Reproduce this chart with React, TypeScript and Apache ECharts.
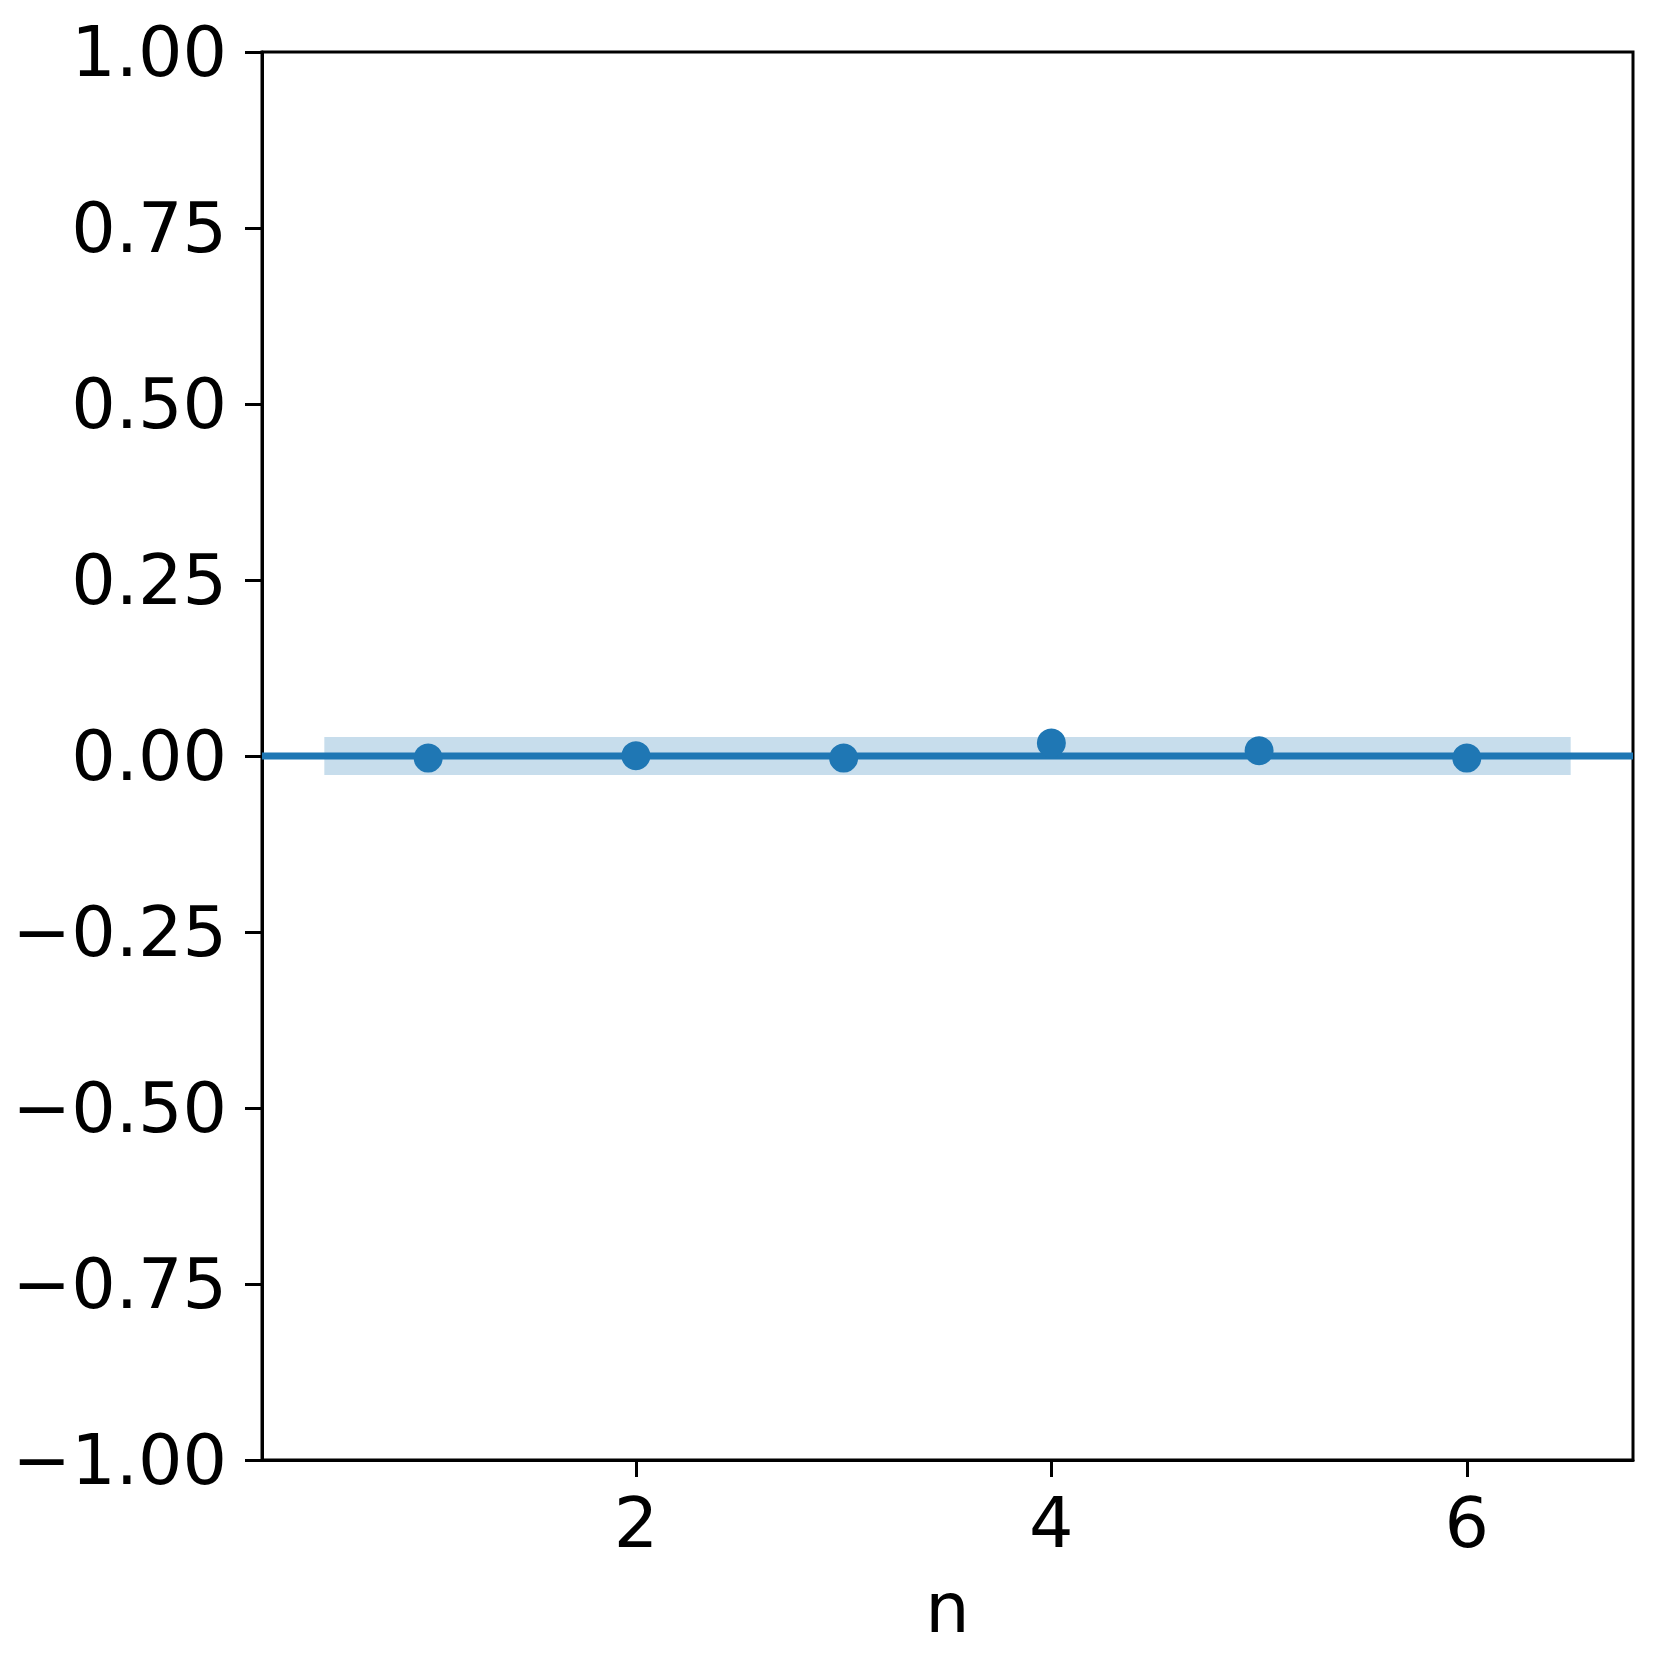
import React, { useEffect, useRef } from "react";
import * as echarts from "echarts";

const nValues = [1, 2, 3, 4, 5, 6];
const yValues = [-0.003, 0.0004, -0.003, 0.0185, 0.0075, -0.003];
const bandX = [0.5, 6.5];
const bandY = [-0.027, 0.027];
const xTicks = [2, 4, 6];
const xRange = [0.2, 6.8];
const yRange = [-1, 1];
const yInterval = 0.25;
const refLine = 0;

const BLUE = "#1f77b4";
const FONT = "DejaVu Sans";

export default function App() {
  const ref = useRef<HTMLDivElement>(null);
  useEffect(() => {
    document.body.style.margin = "0";
    const chart = echarts.init(ref.current!, undefined, { renderer: "svg" });
    const fmt = (v: number) => {
      const s = Math.abs(v).toFixed(2);
      return v < -1e-9 ? "\u2212" + s : s;
    };
    chart.setOption({
      animation: false,
      backgroundColor: "#ffffff",
      grid: {
        left: 262,
        top: 52,
        right: 28,
        bottom: 201,
        show: true,
        borderColor: "#000",
        borderWidth: 3,
        backgroundColor: "transparent",
      },
      xAxis: {
        type: "value",
        min: xRange[0],
        max: xRange[1],
        name: "n",
        nameLocation: "middle",
        nameGap: 113,
        nameTextStyle: { fontFamily: FONT, fontSize: 70, color: "#000" },
        splitLine: { show: false },
        axisLine: { show: true, onZero: false, lineStyle: { color: "#000", width: 3 } },
        axisTick: { show: true, length: 17, lineStyle: { color: "#000", width: 3 }, customValues: xTicks },
        axisLabel: {
          fontFamily: FONT,
          fontSize: 70,
          color: "#000",
          margin: 28,
          customValues: xTicks,
          formatter: (v: number) => String(v),
        },
      },
      yAxis: {
        type: "value",
        min: yRange[0],
        max: yRange[1],
        interval: yInterval,
        splitLine: { show: false },
        axisLine: { show: true, onZero: false, lineStyle: { color: "#000", width: 3 } },
        axisTick: { show: true, length: 17, lineStyle: { color: "#000", width: 3 } },
        axisLabel: {
          fontFamily: FONT,
          fontSize: 70,
          color: "#000",
          margin: 35,
          formatter: fmt,
        },
      },
      series: [
        {
          type: "custom",
          z: 1,
          silent: true,
          data: [[bandX[0], bandY[0], bandX[1], bandY[1]]],
          renderItem: (params: any, api: any) => {
            const p0 = api.coord([api.value(0), api.value(3)]);
            const p1 = api.coord([api.value(2), api.value(1)]);
            return {
              type: "rect",
              shape: { x: p0[0], y: p0[1], width: p1[0] - p0[0], height: p1[1] - p0[1] },
              style: { fill: "rgba(31,119,180,0.25)" },
            };
          },
        },
        {
          type: "line",
          z: 2,
          silent: true,
          symbol: "none",
          data: [
            [xRange[0], refLine],
            [xRange[1], refLine],
          ],
          lineStyle: { color: BLUE, width: 7 },
        },
        {
          type: "scatter",
          z: 3,
          symbol: "circle",
          symbolSize: 29,
          itemStyle: { color: BLUE, opacity: 1 },
          data: nValues.map((n, i) => [n, yValues[i]]),
        },
      ],
    });
    return () => chart.dispose();
  }, []);
  return <div ref={ref} style={{ width: 1661, height: 1661 }} />;
}
